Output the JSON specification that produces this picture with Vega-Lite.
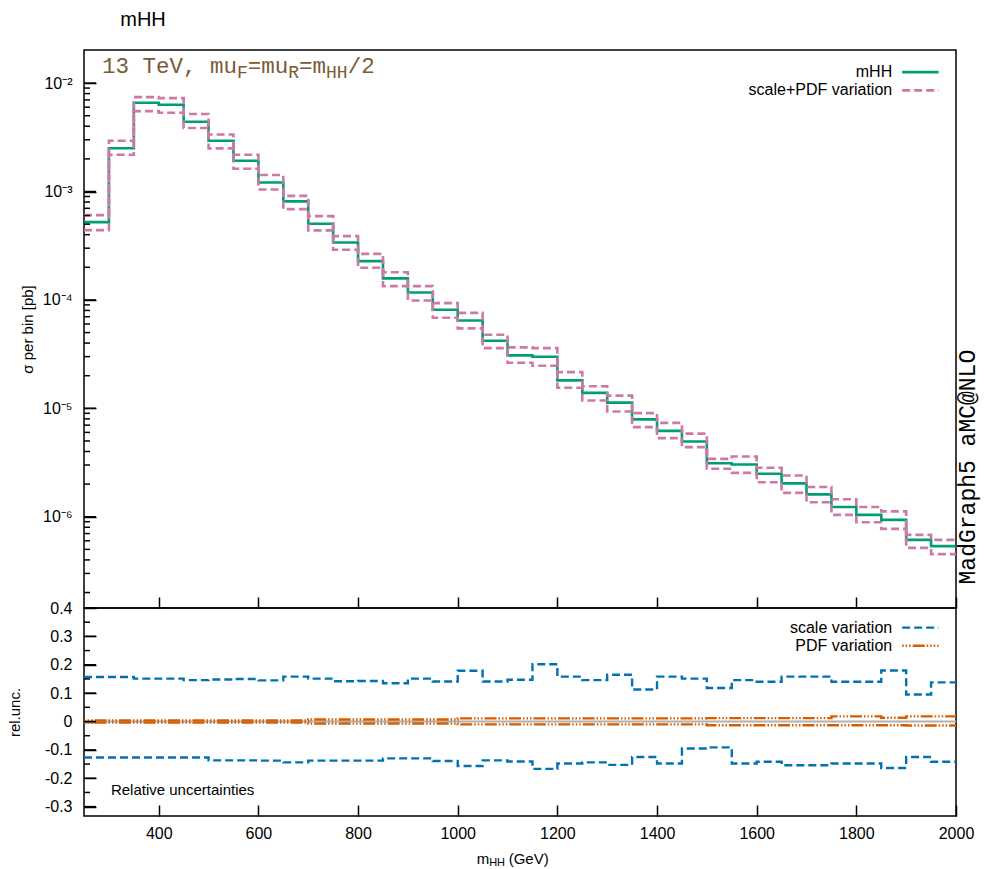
{
  "$schema": "https://vega.github.io/schema/vega-lite/v6.json",
  "padding": {"left": 6, "top": 10, "right": 0, "bottom": 0},
  "background": "white",
  "title": {"text": "mHH", "anchor": "start", "fontSize": 20, "font": "Liberation Sans", "fontWeight": "normal", "color": "#000", "dx": 114, "offset": 19},
  "config": {
    "view": {"stroke": "#000", "strokeWidth": 1.5},
    "axis": {"domain": false, "labelFont": "Liberation Sans", "labelFontSize": 16, "labelColor": "#000", "titleFont": "Liberation Sans", "titleFontSize": 15, "titleFontWeight": "normal", "titleColor": "#000", "labelOverlap": false, "labelFlush": false, "ticks": true, "tickColor": "#000", "tickWidth": 1.5, "tickOpacity": 1, "grid": false}
  },
  "datasets": {
    "top": [
      {"m": 250, "c": 5.22e-4, "hi": 6.06e-4, "lo": 4.40e-4},
      {"m": 300, "c": 2.51e-3, "hi": 2.94e-3, "lo": 2.18e-3},
      {"m": 350, "c": 6.58e-3, "hi": 7.43e-3, "lo": 5.52e-3},
      {"m": 400, "c": 6.31e-3, "hi": 7.27e-3, "lo": 5.32e-3},
      {"m": 450, "c": 4.40e-3, "hi": 5.18e-3, "lo": 3.85e-3},
      {"m": 500, "c": 2.94e-3, "hi": 3.36e-3, "lo": 2.50e-3},
      {"m": 550, "c": 1.92e-3, "hi": 2.18e-3, "lo": 1.62e-3},
      {"m": 600, "c": 1.21e-3, "hi": 1.42e-3, "lo": 1.045e-3},
      {"m": 650, "c": 8.11e-4, "hi": 9.12e-4, "lo": 6.88e-4},
      {"m": 700, "c": 5.04e-4, "hi": 5.93e-4, "lo": 4.38e-4},
      {"m": 750, "c": 3.39e-4, "hi": 3.88e-4, "lo": 2.90e-4},
      {"m": 800, "c": 2.28e-4, "hi": 2.66e-4, "lo": 1.98e-4},
      {"m": 850, "c": 1.58e-4, "hi": 1.80e-4, "lo": 1.34e-4},
      {"m": 900, "c": 1.17e-4, "hi": 1.34e-4, "lo": 9.89e-5},
      {"m": 950, "c": 8.11e-5, "hi": 9.34e-5, "lo": 6.84e-5},
      {"m": 1000, "c": 6.47e-5, "hi": 7.60e-5, "lo": 5.46e-5},
      {"m": 1050, "c": 4.20e-5, "hi": 4.77e-5, "lo": 3.59e-5},
      {"m": 1100, "c": 3.08e-5, "hi": 3.65e-5, "lo": 2.63e-5},
      {"m": 1150, "c": 2.99e-5, "hi": 3.59e-5, "lo": 2.47e-5},
      {"m": 1200, "c": 1.81e-5, "hi": 2.16e-5, "lo": 1.55e-5},
      {"m": 1250, "c": 1.39e-5, "hi": 1.60e-5, "lo": 1.18e-5},
      {"m": 1300, "c": 1.13e-5, "hi": 1.31e-5, "lo": 9.36e-6},
      {"m": 1350, "c": 7.91e-6, "hi": 9.04e-6, "lo": 6.71e-6},
      {"m": 1400, "c": 6.20e-6, "hi": 7.35e-6, "lo": 5.31e-6},
      {"m": 1450, "c": 4.95e-6, "hi": 5.85e-6, "lo": 4.39e-6},
      {"m": 1500, "c": 3.12e-6, "hi": 3.42e-6, "lo": 2.77e-6},
      {"m": 1550, "c": 3.03e-6, "hi": 3.60e-6, "lo": 2.54e-6},
      {"m": 1600, "c": 2.49e-6, "hi": 2.83e-6, "lo": 2.08e-6},
      {"m": 1650, "c": 2.03e-6, "hi": 2.40e-6, "lo": 1.66e-6},
      {"m": 1700, "c": 1.61e-6, "hi": 1.88e-6, "lo": 1.36e-6},
      {"m": 1750, "c": 1.23e-6, "hi": 1.45e-6, "lo": 1.04e-6},
      {"m": 1800, "c": 1.04e-6, "hi": 1.23e-6, "lo": 8.91e-7},
      {"m": 1850, "c": 9.35e-7, "hi": 1.12e-6, "lo": 7.73e-7},
      {"m": 1900, "c": 6.12e-7, "hi": 6.81e-7, "lo": 5.16e-7},
      {"m": 1950, "c": 5.36e-7, "hi": 6.12e-7, "lo": 4.52e-7},
      {"m": 2000, "c": 5.36e-7, "hi": 6.12e-7, "lo": 4.52e-7}
    ],
    "rel": [
      {"m": 250, "su": 0.157, "sl": -0.127, "pu": 0.004, "pl": -0.004},
      {"m": 300, "su": 0.157, "sl": -0.127, "pu": 0.004, "pl": -0.004},
      {"m": 350, "su": 0.151, "sl": -0.127, "pu": 0.004, "pl": -0.004},
      {"m": 400, "su": 0.151, "sl": -0.127, "pu": 0.004, "pl": -0.004},
      {"m": 450, "su": 0.146, "sl": -0.127, "pu": 0.004, "pl": -0.004},
      {"m": 500, "su": 0.148, "sl": -0.137, "pu": 0.004, "pl": -0.004},
      {"m": 550, "su": 0.150, "sl": -0.137, "pu": 0.004, "pl": -0.004},
      {"m": 600, "su": 0.145, "sl": -0.138, "pu": 0.004, "pl": -0.004},
      {"m": 650, "su": 0.158, "sl": -0.144, "pu": 0.004, "pl": -0.004},
      {"m": 700, "su": 0.151, "sl": -0.138, "pu": 0.007, "pl": -0.007},
      {"m": 750, "su": 0.142, "sl": -0.138, "pu": 0.007, "pl": -0.007},
      {"m": 800, "su": 0.143, "sl": -0.138, "pu": 0.007, "pl": -0.007},
      {"m": 850, "su": 0.135, "sl": -0.130, "pu": 0.007, "pl": -0.007},
      {"m": 900, "su": 0.151, "sl": -0.130, "pu": 0.007, "pl": -0.007},
      {"m": 950, "su": 0.141, "sl": -0.139, "pu": 0.007, "pl": -0.007},
      {"m": 1000, "su": 0.179, "sl": -0.157, "pu": 0.011, "pl": -0.010},
      {"m": 1050, "su": 0.141, "sl": -0.137, "pu": 0.011, "pl": -0.010},
      {"m": 1100, "su": 0.147, "sl": -0.141, "pu": 0.011, "pl": -0.010},
      {"m": 1150, "su": 0.202, "sl": -0.167, "pu": 0.011, "pl": -0.010},
      {"m": 1200, "su": 0.158, "sl": -0.148, "pu": 0.011, "pl": -0.010},
      {"m": 1250, "su": 0.146, "sl": -0.144, "pu": 0.011, "pl": -0.010},
      {"m": 1300, "su": 0.165, "sl": -0.153, "pu": 0.011, "pl": -0.010},
      {"m": 1350, "su": 0.113, "sl": -0.125, "pu": 0.011, "pl": -0.010},
      {"m": 1400, "su": 0.158, "sl": -0.148, "pu": 0.011, "pl": -0.010},
      {"m": 1450, "su": 0.151, "sl": -0.095, "pu": 0.011, "pl": -0.010},
      {"m": 1500, "su": 0.118, "sl": -0.091, "pu": 0.012, "pl": -0.013},
      {"m": 1550, "su": 0.146, "sl": -0.148, "pu": 0.012, "pl": -0.013},
      {"m": 1600, "su": 0.140, "sl": -0.142, "pu": 0.012, "pl": -0.013},
      {"m": 1650, "su": 0.158, "sl": -0.154, "pu": 0.012, "pl": -0.013},
      {"m": 1700, "su": 0.158, "sl": -0.154, "pu": 0.012, "pl": -0.013},
      {"m": 1750, "su": 0.140, "sl": -0.148, "pu": 0.018, "pl": -0.013},
      {"m": 1800, "su": 0.140, "sl": -0.148, "pu": 0.018, "pl": -0.013},
      {"m": 1850, "su": 0.180, "sl": -0.164, "pu": 0.013, "pl": -0.013},
      {"m": 1900, "su": 0.095, "sl": -0.125, "pu": 0.018, "pl": -0.014},
      {"m": 1950, "su": 0.138, "sl": -0.142, "pu": 0.018, "pl": -0.014},
      {"m": 2000, "su": 0.138, "sl": -0.142, "pu": 0.018, "pl": -0.014}
    ],
    "topMajor": [{"v": 1e-6}, {"v": 1e-5}, {"v": 1e-4}, {"v": 1e-3}, {"v": 1e-2}],
    "topMinor": [{"v": 2e-7}, {"v": 3e-7}, {"v": 4e-7}, {"v": 5e-7}, {"v": 6e-7}, {"v": 7e-7}, {"v": 8e-7}, {"v": 9e-7},
                 {"v": 2e-6}, {"v": 3e-6}, {"v": 4e-6}, {"v": 5e-6}, {"v": 6e-6}, {"v": 7e-6}, {"v": 8e-6}, {"v": 9e-6},
                 {"v": 2e-5}, {"v": 3e-5}, {"v": 4e-5}, {"v": 5e-5}, {"v": 6e-5}, {"v": 7e-5}, {"v": 8e-5}, {"v": 9e-5},
                 {"v": 2e-4}, {"v": 3e-4}, {"v": 4e-4}, {"v": 5e-4}, {"v": 6e-4}, {"v": 7e-4}, {"v": 8e-4}, {"v": 9e-4},
                 {"v": 2e-3}, {"v": 3e-3}, {"v": 4e-3}, {"v": 5e-3}, {"v": 6e-3}, {"v": 7e-3}, {"v": 8e-3}, {"v": 9e-3}],
    "relMajor": [{"v": -0.3}, {"v": -0.2}, {"v": -0.1}, {"v": 0}, {"v": 0.1}, {"v": 0.2}, {"v": 0.3}, {"v": 0.4}],
    "relMinor": [{"v": -0.25}, {"v": -0.15}, {"v": -0.05}, {"v": 0.05}, {"v": 0.15}, {"v": 0.25}, {"v": 0.35}]
  },
  "vconcat": [
    {
      "width": 872,
      "height": 558,
      "resolve": {"axis": {"y": "independent"}},
      "layer": [
        {
          "data": {"name": "top"},
          "mark": {"type": "line", "interpolate": "step-after", "color": "#009E73", "strokeWidth": 2.6},
          "encoding": {
            "x": {"field": "m", "type": "quantitative", "scale": {"domain": [250, 2000], "nice": false, "zero": false},
                  "axis": {"values": [400, 600, 800, 1000, 1200, 1400, 1600, 1800, 2000], "labels": false, "offset": -11, "tickSize": 11, "title": null}},
            "y": {"field": "c", "type": "quantitative", "scale": {"type": "log", "domain": [1.44e-7, 0.0202], "nice": false},
                  "axis": {"orient": "left", "title": "σ per bin [pb]", "titleX": -69, "titleBaseline": "middle", "labelOverlap": false, "offset": -12, "tickSize": 12,
                           "values": [1e-6, 1e-5, 1e-4, 1e-3, 1e-2],
                           "labelExpr": "datum.value == 0.01 ? '10⁻²' : datum.value == 0.001 ? '10⁻³' : datum.value == 0.0001 ? '10⁻⁴' : datum.value == 0.00001 ? '10⁻⁵' : '10⁻⁶'",
                           "labelPadding": 12}}
          }
        },
        {
          "data": {"name": "top"},
          "mark": {"type": "line", "interpolate": "step-after", "color": "#CC79A7", "strokeWidth": 2.6, "strokeDash": [8, 4]},
          "encoding": {"x": {"field": "m", "type": "quantitative"}, "y": {"field": "hi", "type": "quantitative", "axis": null}}
        },
        {
          "data": {"name": "top"},
          "mark": {"type": "line", "interpolate": "step-after", "color": "#CC79A7", "strokeWidth": 2.6, "strokeDash": [8, 4]},
          "encoding": {"x": {"field": "m", "type": "quantitative"}, "y": {"field": "lo", "type": "quantitative", "axis": null}}
        },
        {
          "data": {"name": "topMajor"},
          "mark": {"type": "tick", "orient": "horizontal", "size": 12, "thickness": 1.5, "xOffset": 6, "color": "#000", "opacity": 1},
          "encoding": {"x": {"datum": 250, "type": "quantitative"}, "y": {"field": "v", "type": "quantitative", "axis": null}}
        },
        {
          "data": {"name": "topMinor"},
          "mark": {"type": "tick", "orient": "horizontal", "size": 6, "thickness": 1.5, "xOffset": 3, "color": "#000", "opacity": 1},
          "encoding": {"x": {"datum": 250, "type": "quantitative"}, "y": {"field": "v", "type": "quantitative", "axis": null}}
        },
        {"data": {"values": [{}]}, "mark": {"type": "text", "text": "13 TeV, mu", "align": "left", "baseline": "alphabetic", "font": "Liberation Mono", "fontSize": 22.5, "color": "#7b5a36"},
         "encoding": {"x": {"datum": 286, "type": "quantitative"}, "y": {"datum": 0.01245, "type": "quantitative", "axis": null}}},
        {"data": {"values": [{}]}, "mark": {"type": "text", "text": "F", "align": "left", "baseline": "alphabetic", "font": "Liberation Mono", "fontSize": 18, "color": "#7b5a36", "dx": 135, "dy": 5},
         "encoding": {"x": {"datum": 286, "type": "quantitative"}, "y": {"datum": 0.01245, "type": "quantitative", "axis": null}}},
        {"data": {"values": [{}]}, "mark": {"type": "text", "text": "=mu", "align": "left", "baseline": "alphabetic", "font": "Liberation Mono", "fontSize": 22.5, "color": "#7b5a36", "dx": 145.8},
         "encoding": {"x": {"datum": 286, "type": "quantitative"}, "y": {"datum": 0.01245, "type": "quantitative", "axis": null}}},
        {"data": {"values": [{}]}, "mark": {"type": "text", "text": "R", "align": "left", "baseline": "alphabetic", "font": "Liberation Mono", "fontSize": 18, "color": "#7b5a36", "dx": 186.3, "dy": 5},
         "encoding": {"x": {"datum": 286, "type": "quantitative"}, "y": {"datum": 0.01245, "type": "quantitative", "axis": null}}},
        {"data": {"values": [{}]}, "mark": {"type": "text", "text": "=m", "align": "left", "baseline": "alphabetic", "font": "Liberation Mono", "fontSize": 22.5, "color": "#7b5a36", "dx": 197.1},
         "encoding": {"x": {"datum": 286, "type": "quantitative"}, "y": {"datum": 0.01245, "type": "quantitative", "axis": null}}},
        {"data": {"values": [{}]}, "mark": {"type": "text", "text": "HH", "align": "left", "baseline": "alphabetic", "font": "Liberation Mono", "fontSize": 18, "color": "#7b5a36", "dx": 224.1, "dy": 5},
         "encoding": {"x": {"datum": 286, "type": "quantitative"}, "y": {"datum": 0.01245, "type": "quantitative", "axis": null}}},
        {"data": {"values": [{}]}, "mark": {"type": "text", "text": "/2", "align": "left", "baseline": "alphabetic", "font": "Liberation Mono", "fontSize": 22.5, "color": "#7b5a36", "dx": 245.7},
         "encoding": {"x": {"datum": 286, "type": "quantitative"}, "y": {"datum": 0.01245, "type": "quantitative", "axis": null}}},
        {"data": {"values": [{}]}, "mark": {"type": "text", "text": "mHH", "align": "right", "baseline": "middle", "font": "Liberation Sans", "fontSize": 16, "color": "#000"},
         "encoding": {"x": {"datum": 1872, "type": "quantitative"}, "y": {"datum": 0.01263, "type": "quantitative", "axis": null}}},
        {"data": {"values": [{}]}, "mark": {"type": "text", "text": "scale+PDF variation", "align": "right", "baseline": "middle", "font": "Liberation Sans", "fontSize": 16, "color": "#000"},
         "encoding": {"x": {"datum": 1872, "type": "quantitative"}, "y": {"datum": 0.00856, "type": "quantitative", "axis": null}}},
        {"data": {"values": [{}]}, "mark": {"type": "rule", "color": "#009E73", "strokeWidth": 2.6},
         "encoding": {"x": {"datum": 1892, "type": "quantitative"}, "x2": {"datum": 1965}, "y": {"datum": 0.01263, "type": "quantitative", "axis": null}}},
        {"data": {"values": [{}]}, "mark": {"type": "rule", "color": "#CC79A7", "strokeWidth": 2.6, "strokeDash": [8, 4]},
         "encoding": {"x": {"datum": 1892, "type": "quantitative"}, "x2": {"datum": 1965}, "y": {"datum": 0.00856, "type": "quantitative", "axis": null}}},
        {"data": {"values": [{}]}, "mark": {"type": "text", "text": "MadGraph5 aMC@NLO", "align": "center", "baseline": "middle", "angle": 270, "font": "Liberation Mono", "fontSize": 23, "color": "#000"},
         "encoding": {"x": {"datum": 2025, "type": "quantitative"}, "y": {"datum": 2.87e-6, "type": "quantitative", "axis": null}}}
      ]
    },
    {
      "width": 872,
      "height": 208,
      "resolve": {"axis": {"y": "independent"}},
      "layer": [
        {
          "data": {"values": [{}]},
          "mark": {"type": "rule", "color": "#b0b0b0", "strokeWidth": 2},
          "encoding": {"y": {"datum": 0, "type": "quantitative", "axis": null}}
        },
        {
          "data": {"name": "rel"},
          "mark": {"type": "line", "interpolate": "step-after", "color": "#0072B2", "strokeWidth": 2.4, "strokeDash": [8, 4]},
          "encoding": {
            "x": {"field": "m", "type": "quantitative", "scale": {"domain": [250, 2000], "nice": false, "zero": false},
                  "axis": {"values": [400, 600, 800, 1000, 1200, 1400, 1600, 1800, 2000], "format": "d", "offset": -11, "tickSize": 11, "labelPadding": 9, "title": null}},
            "y": {"field": "su", "type": "quantitative", "scale": {"domain": [-0.333, 0.4], "nice": false, "zero": false},
                  "axis": {"orient": "left", "title": "rel.unc.", "titleX": -82, "titleBaseline": "middle", "labelOverlap": false, "offset": -12, "tickSize": 12,
                           "values": [-0.3, -0.2, -0.1, 0, 0.1, 0.2, 0.3, 0.4],
                           "labelExpr": "'' + round(datum.value*10)/10",
                           "labelPadding": 12}}
          }
        },
        {
          "data": {"name": "rel"},
          "mark": {"type": "line", "interpolate": "step-after", "color": "#0072B2", "strokeWidth": 2.4, "strokeDash": [8, 4]},
          "encoding": {"x": {"field": "m", "type": "quantitative"}, "y": {"field": "sl", "type": "quantitative", "axis": null}}
        },
        {
          "data": {"name": "rel"},
          "mark": {"type": "line", "interpolate": "step-after", "color": "#D55E00", "strokeWidth": 2.4, "strokeDash": [1.5, 2, 1.5, 2, 1.5, 2, 12, 2]},
          "encoding": {"x": {"field": "m", "type": "quantitative"}, "y": {"field": "pu", "type": "quantitative", "axis": null}}
        },
        {
          "data": {"name": "rel"},
          "mark": {"type": "line", "interpolate": "step-after", "color": "#D55E00", "strokeWidth": 2.4, "strokeDash": [1.5, 2, 1.5, 2, 1.5, 2, 12, 2]},
          "encoding": {"x": {"field": "m", "type": "quantitative"}, "y": {"field": "pl", "type": "quantitative", "axis": null}}
        },
        {
          "data": {"name": "relMajor"},
          "mark": {"type": "tick", "orient": "horizontal", "size": 12, "thickness": 1.5, "xOffset": 6, "color": "#000", "opacity": 1},
          "encoding": {"x": {"datum": 250, "type": "quantitative"}, "y": {"field": "v", "type": "quantitative", "axis": null}}
        },
        {
          "data": {"name": "relMinor"},
          "mark": {"type": "tick", "orient": "horizontal", "size": 6, "thickness": 1.5, "xOffset": 3, "color": "#000", "opacity": 1},
          "encoding": {"x": {"datum": 250, "type": "quantitative"}, "y": {"field": "v", "type": "quantitative", "axis": null}}
        },
        {"data": {"values": [{}]}, "mark": {"type": "text", "text": "scale variation", "align": "right", "baseline": "middle", "font": "Liberation Sans", "fontSize": 16, "color": "#000"},
         "encoding": {"x": {"datum": 1872, "type": "quantitative"}, "y": {"datum": 0.331, "type": "quantitative", "axis": null}}},
        {"data": {"values": [{}]}, "mark": {"type": "text", "text": "PDF variation", "align": "right", "baseline": "middle", "font": "Liberation Sans", "fontSize": 16, "color": "#000"},
         "encoding": {"x": {"datum": 1872, "type": "quantitative"}, "y": {"datum": 0.267, "type": "quantitative", "axis": null}}},
        {"data": {"values": [{}]}, "mark": {"type": "rule", "color": "#0072B2", "strokeWidth": 2.4, "strokeDash": [8, 4]},
         "encoding": {"x": {"datum": 1892, "type": "quantitative"}, "x2": {"datum": 1965}, "y": {"datum": 0.331, "type": "quantitative", "axis": null}}},
        {"data": {"values": [{}]}, "mark": {"type": "rule", "color": "#D55E00", "strokeWidth": 2.4, "strokeDash": [1.5, 2, 1.5, 2, 1.5, 2, 12, 2]},
         "encoding": {"x": {"datum": 1892, "type": "quantitative"}, "x2": {"datum": 1965}, "y": {"datum": 0.267, "type": "quantitative", "axis": null}}},
        {"data": {"values": [{}]}, "mark": {"type": "text", "text": "Relative uncertainties", "align": "left", "baseline": "middle", "font": "Liberation Sans", "fontSize": 15, "color": "#000"},
         "encoding": {"x": {"datum": 304, "type": "quantitative"}, "y": {"datum": -0.241, "type": "quantitative", "axis": null}}},
        {"data": {"values": [{}]}, "mark": {"type": "text", "text": "m", "align": "left", "baseline": "middle", "font": "Liberation Sans", "fontSize": 15, "color": "#000"},
         "encoding": {"x": {"datum": 1038, "type": "quantitative"}, "y": {"datum": -0.483, "type": "quantitative", "axis": null}}},
        {"data": {"values": [{}]}, "mark": {"type": "text", "text": "HH", "align": "left", "baseline": "middle", "font": "Liberation Sans", "fontSize": 11, "color": "#000", "dx": 12.5, "dy": 4},
         "encoding": {"x": {"datum": 1038, "type": "quantitative"}, "y": {"datum": -0.483, "type": "quantitative", "axis": null}}},
        {"data": {"values": [{}]}, "mark": {"type": "text", "text": "(GeV)", "align": "left", "baseline": "middle", "font": "Liberation Sans", "fontSize": 15, "color": "#000", "dx": 32},
         "encoding": {"x": {"datum": 1038, "type": "quantitative"}, "y": {"datum": -0.483, "type": "quantitative", "axis": null}}}
      ]
    }
  ],
  "spacing": 0,
  "bounds": "flush"
}
